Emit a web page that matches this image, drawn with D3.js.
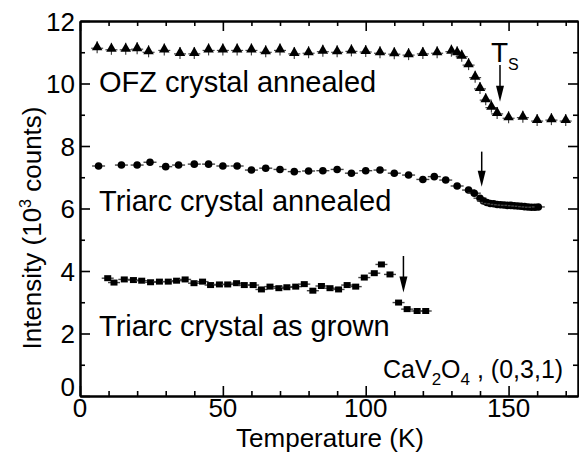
<!DOCTYPE html>
<html>
<head>
<meta charset="utf-8">
<script src="https://cdn.jsdelivr.net/npm/d3@7"></script>
<style>
  html, body { margin: 0; padding: 0; background: #fff; }
  svg { display: block; font-family: "Liberation Sans", Arial, Helvetica, sans-serif; }
</style>
</head>
<body>
<svg id="chart" width="579" height="453"></svg>
<script>
// Temperature (K) and intensity (10^3 counts) for each sample
const ofzTemps = [6, 11, 16, 20, 24, 29.5, 35, 40, 45, 50, 55, 60, 65, 70, 75, 80, 85, 90, 95, 100,
  105, 110, 115, 120, 125, 130, 132, 133.6, 136, 138.3, 140, 142, 144, 146, 150, 155, 160, 165, 170];
const ofzCounts = [11.16, 11.11, 11.11, 11.13, 11.03, 11.09, 10.98, 10.98, 11.09, 11.09, 11.09, 11.09, 11.03, 11.09, 10.98, 11.0, 11.05, 11.03, 11.06, 11.04,
  11.0, 10.97, 10.94, 10.98, 11.0, 11.05, 11.0, 10.89, 10.62, 10.22, 9.86, 9.5, 9.26, 9.06, 8.92, 8.94, 8.83, 8.86, 8.83];

const annealedTemps = [6.5, 14.5, 20, 24.5, 30, 34.5, 40, 45, 50, 55, 60, 65, 70, 75, 80, 85, 90, 95, 100, 105,
  110, 115, 120, 124, 128, 132, 136, 138, 140, 141.2, 142.4, 143.6, 144.8, 146, 147.2, 148.4, 149.6, 150.8, 152, 153.2,
  154.4, 155.6, 156.8, 158, 159.2, 160.4];
const annealedCounts = [7.36, 7.39, 7.39, 7.48, 7.34, 7.39, 7.42, 7.42, 7.36, 7.36, 7.23, 7.29, 7.25, 7.18, 7.2, 7.21, 7.25, 7.13, 7.21, 7.23,
  7.13, 7.07, 6.93, 7.02, 6.91, 6.72, 6.59, 6.49, 6.33, 6.24, 6.19, 6.16, 6.15, 6.13, 6.12, 6.11, 6.1, 6.1, 6.09, 6.08,
  6.07, 6.06, 6.05, 6.04, 6.04, 6.05];

const grownTemps = [9.7, 11.9, 15.5, 18.7, 21.6, 24.7, 27.8, 30.9, 33.8, 36.8, 39.9, 42.9, 45.7, 48.8, 51.7, 54.8, 57.5, 60.6, 63.5, 66.5,
  69.6, 72.4, 75.5, 78.5, 81.5, 84.5, 87.5, 90.5, 93.5, 96.5, 99.5, 103, 105.5, 108.5, 111.5, 114.5, 118, 121];
const grownCounts = [3.77, 3.63, 3.73, 3.71, 3.69, 3.64, 3.66, 3.66, 3.69, 3.73, 3.61, 3.66, 3.55, 3.57, 3.57, 3.61, 3.55, 3.55, 3.41, 3.5,
  3.45, 3.48, 3.5, 3.58, 3.37, 3.52, 3.45, 3.41, 3.55, 3.5, 3.79, 3.93, 4.21, 3.89, 2.99, 2.78, 2.72, 2.72];

// Structural transition markers: [temperature, arrow top, arrow tip]
const transitionArrows = [[147, 10.59, 9.42], [140.6, 7.82, 6.70], [113.2, 4.48, 3.31]];

// Axis ticks
const xMajorTicks = [0, 50, 100, 150];
const xMinorTicks = [10, 20, 30, 40, 60, 70, 80, 90, 110, 120, 130, 140, 160, 170];
const yMajorTicks = [0, 2, 4, 6, 8, 10, 12];
const yMinorTicks = [1, 3, 5, 7, 9, 11];

const svg = d3.select("#chart");
const x = d3.scaleLinear().domain([0, 174.3]).range([80, 578]);
const y = d3.scaleLinear().domain([0, 12]).range([396, 21]);

const toPoints = (ts, vs) => ts.map((t, i) => ({ t, v: vs[i] }));

// ---- frame and ticks (all ticks point inward) ----
function styleAxis(g) {
  g.selectAll("path.domain").attr("stroke", "#000").attr("stroke-width", 2);
  g.selectAll(".tick line").attr("stroke", "#000").attr("stroke-width", 1.6);
  g.selectAll("text").remove();
}
const major = 10, minor = 5;
[
  [d3.axisBottom(x), 396, null, xMajorTicks, xMinorTicks],
  [d3.axisTop(x), 21, null, xMajorTicks, xMinorTicks],
].forEach(([ax, yy, _, maj, min]) => {
  svg.append("g").attr("transform", `translate(0,${yy})`)
    .call(ax.tickValues(maj).tickSizeInner(-major).tickSizeOuter(0).tickFormat("")).call(styleAxis);
  const axMin = (yy === 396 ? d3.axisBottom(x) : d3.axisTop(x));
  svg.append("g").attr("transform", `translate(0,${yy})`)
    .call(axMin.tickValues(min).tickSizeInner(-minor).tickSizeOuter(0).tickFormat("")).call(styleAxis);
});
[
  [d3.axisLeft, 80],
  [d3.axisRight, 578],
].forEach(([axf, xx]) => {
  svg.append("g").attr("transform", `translate(${xx},0)`)
    .call(axf(y).tickValues(yMajorTicks).tickSizeInner(-major).tickSizeOuter(0).tickFormat("")).call(styleAxis);
  svg.append("g").attr("transform", `translate(${xx},0)`)
    .call(axf(y).tickValues(yMinorTicks).tickSizeInner(-minor).tickSizeOuter(0).tickFormat("")).call(styleAxis);
});

// tick labels
svg.append("g").selectAll("text").data(xMajorTicks).join("text")
  .attr("x", d => x(d)).attr("y", 417).attr("text-anchor", "middle")
  .attr("font-size", 26).text(d => d);
svg.append("g").selectAll("text").data(yMajorTicks).join("text")
  .attr("x", 75).attr("y", d => y(d) + (d === 0 ? 0 : 9.5)).attr("text-anchor", "end")
  .attr("font-size", 26).text(d => d);

// axis titles
svg.append("text").attr("x", 330).attr("y", 447).attr("text-anchor", "middle")
  .attr("font-size", 26).text("Temperature (K)");
const yTitle = svg.append("text").attr("transform", "translate(41,228) rotate(-90)")
  .attr("text-anchor", "middle").attr("font-size", 26);
yTitle.append("tspan").text("Intensity (10");
yTitle.append("tspan").attr("font-size", 16).attr("dy", -10).text("3");
yTitle.append("tspan").attr("dy", 10).text(" counts)");

// ---- data markers ----
const errColor = "#444";
const ofz = svg.append("g");
toPoints(ofzTemps, ofzCounts).forEach(p => {
  const g = ofz.append("g").attr("transform", `translate(${x(p.t)},${y(p.v)})`);
  g.append("line").attr("x1", 0).attr("x2", 0).attr("y1", -6).attr("y2", 6).attr("stroke", errColor).attr("stroke-width", 1.2);
  g.append("line").attr("x1", -6).attr("x2", 6).attr("y1", 1).attr("y2", 1).attr("stroke", errColor).attr("stroke-width", 1.2);
  g.append("path").attr("d", d3.symbol(d3.symbolTriangle, 48)()).attr("fill", "#000");
});

const ann = svg.append("g");
toPoints(annealedTemps, annealedCounts).forEach(p => {
  const g = ann.append("g").attr("transform", `translate(${x(p.t)},${y(p.v)})`);
  g.append("line").attr("x1", -6.5).attr("x2", 6.5).attr("y1", 0).attr("y2", 0).attr("stroke", errColor).attr("stroke-width", 1.4);
  g.append("circle").attr("r", 3.8).attr("fill", "#000");
});

const grown = svg.append("g");
toPoints(grownTemps, grownCounts).forEach(p => {
  const g = grown.append("g").attr("transform", `translate(${x(p.t)},${y(p.v)})`);
  g.append("line").attr("x1", -6).attr("x2", 6).attr("y1", 0).attr("y2", 0).attr("stroke", errColor).attr("stroke-width", 1.4);
  g.append("rect").attr("x", -3.5).attr("y", -3).attr("width", 7).attr("height", 6).attr("fill", "#000");
});

// ---- transition arrows ----
transitionArrows.forEach(([t, top, tip]) => {
  const ax = x(t), y0 = y(top), y1 = y(tip);
  svg.append("line").attr("x1", ax).attr("x2", ax).attr("y1", y0).attr("y2", y1 - 6)
    .attr("stroke", "#000").attr("stroke-width", 1.5);
  svg.append("path").attr("d", `M${ax - 4},${y1 - 16} L${ax + 4},${y1 - 16} L${ax},${y1} Z`).attr("fill", "#000");
});

// ---- annotations ----
svg.append("text").attr("x", 99).attr("y", 92).attr("font-size", 29).text("OFZ crystal annealed");
svg.append("text").attr("x", 99).attr("y", 211).attr("font-size", 29).text("Triarc crystal annealed");
svg.append("text").attr("x", 99).attr("y", 336).attr("font-size", 29).text("Triarc crystal as grown");

svg.append("text").attr("x", 491).attr("y", 62).attr("font-size", 28).text("T");
svg.append("text").attr("x", 508).attr("y", 70).attr("font-size", 16).text("S");

const formula = svg.append("text").attr("x", 383).attr("y", 378).attr("font-size", 25);
formula.append("tspan").text("CaV");
formula.append("tspan").attr("font-size", 17).attr("dy", 7).text("2");
formula.append("tspan").attr("dy", -7).text("O");
formula.append("tspan").attr("font-size", 17).attr("dy", 7).text("4");
formula.append("tspan").attr("dy", -7).text(" , (0,3,1)");
</script>
</body>
</html>
